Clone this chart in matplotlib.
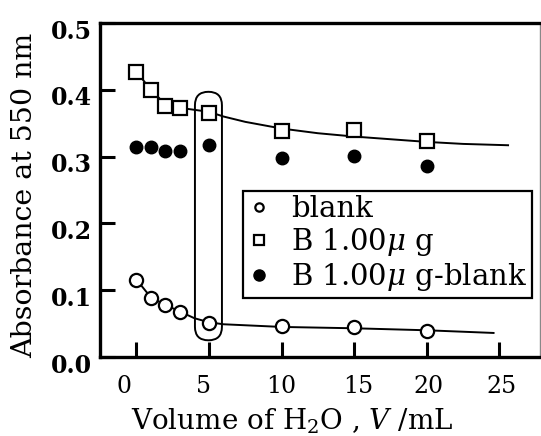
import matplotlib
matplotlib.use("Agg")
import matplotlib.pyplot as plt
from matplotlib.patches import FancyBboxPatch
from matplotlib.lines import Line2D
from matplotlib.transforms import ScaledTranslation

# ---- data ----
volume = [0, 1, 2, 3, 5, 10, 15, 20]
blank = [0.116, 0.089, 0.078, 0.068, 0.051, 0.046, 0.045, 0.039]
b100 = [0.427, 0.400, 0.376, 0.373, 0.366, 0.339, 0.340, 0.323]
b100_minus_blank = [0.314, 0.315, 0.308, 0.308, 0.318, 0.298, 0.301, 0.286]

# fitted guide curves
fit_b100_x = [0, 1, 2, 3, 5, 6, 7.5, 10, 12.5, 15, 17.5, 20, 22.5, 25.6]
fit_b100_y = [0.427, 0.400, 0.378, 0.373, 0.367, 0.360, 0.352, 0.342, 0.335, 0.330, 0.326, 0.322, 0.319, 0.317]
fit_blank_x = [0, 1, 2, 3, 4, 5, 6, 8, 10, 15, 20, 24.6]
fit_blank_y = [0.116, 0.089, 0.078, 0.068, 0.058, 0.052, 0.049, 0.047, 0.045, 0.043, 0.040, 0.036]

x_ticks = [0, 5, 10, 15, 20, 25]
y_ticks = [0.0, 0.1, 0.2, 0.3, 0.4, 0.5]
y_tick_labels = ["0.0", "0.1", "0.2", "0.3", "0.4", "0.5"]
legend_labels = ["blank", "B 1.00$\\mu$ g", "B 1.00$\\mu$ g-blank"]

plt.rcParams['font.family'] = ['DejaVu Serif']
plt.rcParams['mathtext.fontset'] = 'dejavuserif'
W, H = 541, 436
fig = plt.figure(figsize=(W / 100, H / 100), dpi=100)
left, right, top, bottom = 100, 540, 23, 357
ax = fig.add_axes([left / W, 1 - bottom / H, (right - left) / W, (bottom - top) / H])

xmin, xmax = -2.51, 27.8
ax.set_xlim(xmin, xmax)
ax.set_ylim(0.0, 0.5)

ax.plot(fit_b100_x, fit_b100_y, color="black", lw=1.4, zorder=2)
ax.plot(fit_blank_x, fit_blank_y, color="black", lw=1.4, zorder=2)

ax.plot(volume, b100, ls="none", marker="s", ms=10, mfc="white", mec="black", mew=1.6, zorder=3)
ax.plot(volume, blank, ls="none", marker="o", ms=9.5, mfc="white", mec="black", mew=1.6, zorder=3)
ax.plot(volume, b100_minus_blank, ls="none", marker="o", ms=9, mfc="black", mec="black", zorder=3)

# rounded highlight around V=5 points
xpix = (right - left) / (xmax - xmin)
ypix = (bottom - top) / 0.5
box = FancyBboxPatch((4.03, 0.025), 5.89 - 4.03, 0.397 - 0.025,
                     boxstyle="round,pad=0,rounding_size=0.93",
                     mutation_aspect=xpix / ypix,
                     fill=False, ec="black", lw=1.4, zorder=2)
ax.add_patch(box)

ax.set_xticks(x_ticks)
ax.set_xticklabels([str(v) for v in x_ticks], fontsize=17)
ax.set_yticks(y_ticks)
ax.set_yticklabels(y_tick_labels, fontsize=17, fontweight="bold")
ax.tick_params(direction="in", length=11, width=2.2)
ax.tick_params(axis="x", pad=13)
ax.tick_params(axis="y", pad=6)
for name in ["left", "bottom", "top"]:
    ax.spines[name].set_linewidth(2.4)
ax.spines["right"].set_linewidth(1.0)
ax.spines["right"].set_color("#888888")

# small per-label offsets seen in the reference
x_offsets = [-12, -6, 0, 4, 2, 2]
for lab, dx in zip(ax.get_xticklabels(), x_offsets):
    lab.set_transform(lab.get_transform() + ScaledTranslation(dx / 100, 0, fig.dpi_scale_trans))
for lab in ax.get_yticklabels():
    lab.set_transform(lab.get_transform() + ScaledTranslation(0, -6 / 100, fig.dpi_scale_trans))

fig.text(292 / W, 7 / H, "Volume of H$_2$O , $V$ /mL", fontsize=20, ha="center", va="baseline")
fig.text(25 / W, 1 - 195 / H, "Absorbance at 550 nm", fontsize=20.5, rotation=90,
         ha="center", va="center")

handles = [
    Line2D([], [], ls="none", marker="o", ms=6, mfc="white", mec="black", mew=1.6),
    Line2D([], [], ls="none", marker="s", ms=6.5, mfc="white", mec="black", mew=1.6),
    Line2D([], [], ls="none", marker="o", ms=8, mfc="black", mec="black"),
]
leg = ax.legend(handles, legend_labels, loc="upper left",
                bbox_to_anchor=((243 - left) / (right - left), 1 - (191 - top) / (bottom - top)),
                fontsize=21, frameon=True, fancybox=False, borderpad=0.15,
                labelspacing=0.1, handletextpad=0.7, handlelength=0.8, borderaxespad=0)
leg.get_frame().set_edgecolor("black")
leg.get_frame().set_linewidth(1.6)
leg.get_frame().set_alpha(1)

fig.savefig("out.png", dpi=100)
